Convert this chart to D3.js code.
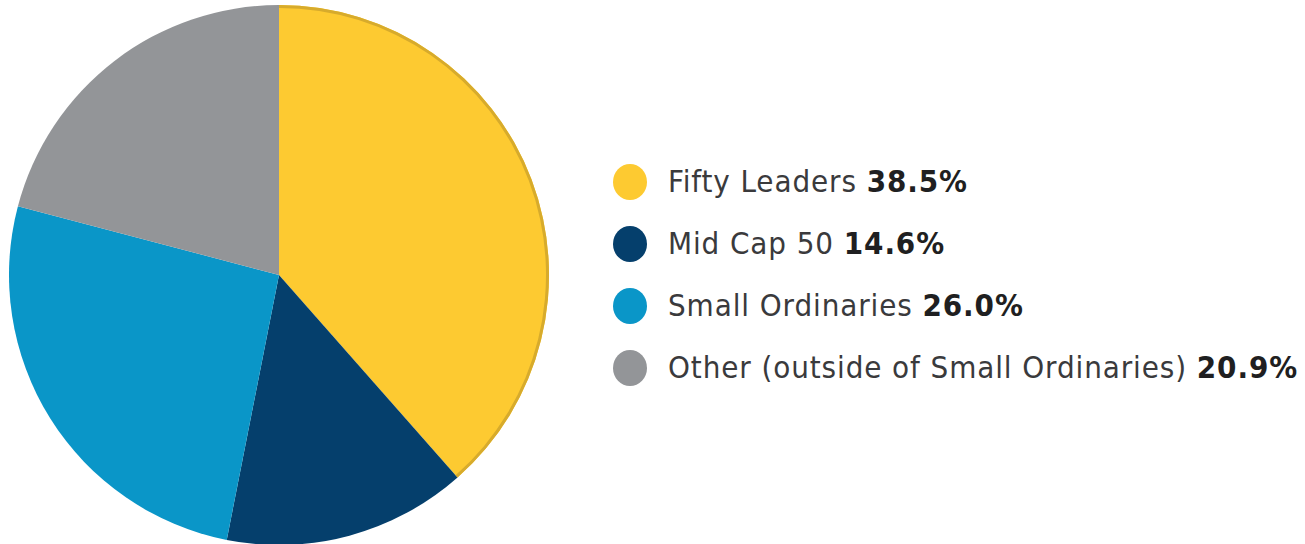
<!DOCTYPE html>
<html>
<head>
<meta charset="utf-8">
<script src="https://cdn.jsdelivr.net/npm/d3@7"></script>
<style>
  body { margin: 0; background: #fff; }
  svg { display: block; }
</style>
</head>
<body>
<svg width="1305" height="544"></svg>
<script>
const labels = ['Fifty Leaders', 'Mid Cap 50', 'Small Ordinaries', 'Other (outside of Small Ordinaries)']
const values = [38.5, 14.6, 26.0, 20.9]
const colors = ['#fdca31', '#053f6c', '#0a96c8', '#939598']

const svg = d3.select('svg')
const cx = 279, cy = 275, radius = 270

const pie = d3.pie().sort(null).value(d => d)
const arc = d3.arc().innerRadius(0).outerRadius(radius)
const arcs = pie(values)

const g = svg.append('g').attr('transform', `translate(${cx},${cy})`)

g.selectAll('path.slice')
  .data(arcs)
  .enter().append('path')
  .attr('class', 'slice')
  .attr('d', arc)
  .attr('fill', (d, i) => colors[i])

// golden rim on the first slice
const rim = d3.arc().innerRadius(radius - 3).outerRadius(radius)
g.append('path')
  .attr('d', rim(arcs[0]))
  .attr('fill', '#d7ab2c')

// legend
const legend = svg.append('g').attr('transform', 'translate(630,182)')
const rows = legend.selectAll('g')
  .data(labels)
  .enter().append('g')
  .attr('transform', (d, i) => `translate(0,${i * 62})`)

rows.append('ellipse')
  .attr('rx', 17)
  .attr('ry', 18)
  .attr('fill', (d, i) => colors[i])

const txt = rows.append('text')
  .attr('x', 38)
  .attr('y', 10)
  .attr('font-family', '"DejaVu Sans Condensed", "DejaVu Sans", sans-serif')
  .attr('font-size', 31)
  .attr('letter-spacing', 0.9)
  .attr('fill', '#3a3a3c')

txt.append('tspan').text(d => d + ' ')
txt.append('tspan')
  .attr('font-weight', 'bold')
  .attr('fill', '#1f1f21')
  .text((d, i) => values[i].toFixed(1) + '%')
</script>
</body>
</html>
